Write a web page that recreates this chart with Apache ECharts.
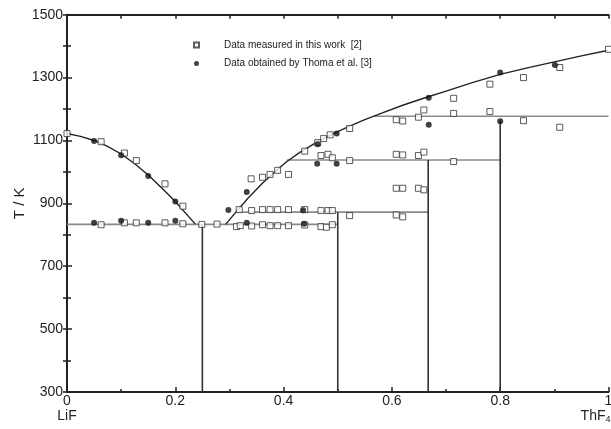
<!DOCTYPE html>
<html>
<head>
<meta charset="utf-8">
<script src="https://cdn.jsdelivr.net/npm/echarts@6/dist/echarts.min.js"></script>
<style>
html,body{margin:0;padding:0;background:#fff;}
#chart{width:611px;height:429px;}
</style>
</head>
<body>
<div id="chart"></div>
<script>
// ---- data ----
const measuredName = 'Data measured in this work  [2]';
const thomaName = 'Data obtained by Thoma et al. [3]';

// open squares: [x(ThF4), T/K]
const measuredPts = [
  [0.0,1122],
  [0.063,1096],[0.063,832],
  [0.106,1060],[0.106,838],
  [0.128,1036],[0.128,838],
  [0.181,962],[0.181,838],
  [0.214,891],[0.214,835],
  [0.249,833],[0.277,834],
  [0.313,826],[0.320,829],[0.318,880],
  [0.340,978],[0.341,877],[0.341,828],
  [0.361,983],[0.361,880],[0.361,832],
  [0.375,992],[0.375,880],[0.375,829],
  [0.389,1005],[0.389,880],[0.389,829],
  [0.409,992],[0.409,880],[0.409,829],
  [0.439,1066],[0.439,880],[0.439,831],
  [0.463,1093],[0.474,1106],[0.486,1118],
  [0.469,1052],[0.469,877],[0.469,826],
  [0.482,1056],[0.482,877],[0.479,824],
  [0.490,1045],[0.490,877],[0.490,832],
  [0.522,1138],[0.522,1036],[0.522,861],
  [0.608,1166],[0.608,1056],[0.608,948],[0.608,863],
  [0.620,1162],[0.620,1054],[0.620,948],[0.620,857],
  [0.649,1174],[0.649,1052],[0.649,948],
  [0.659,1197],[0.659,1063],[0.659,943],
  [0.714,1234],[0.714,1186],[0.714,1033],
  [0.781,1279],[0.781,1192],
  [0.843,1300],[0.843,1163],
  [0.910,1332],[0.910,1142],
  [1.0,1390]
];

// filled circles: [x(ThF4), T/K]
const thomaPts = [
  [0.05,1098],[0.10,1053],[0.15,987],[0.20,906],
  [0.05,838],[0.10,845],[0.15,838],[0.20,845],
  [0.298,879],[0.332,936],[0.332,838],
  [0.436,878],[0.438,835],
  [0.463,1088],[0.498,1122],
  [0.462,1026],[0.498,1026],
  [0.668,1236],[0.668,1150],
  [0.800,1316],[0.800,1161],
  [0.901,1340]
];

// liquidus curves
const leftLiquidus = [[0,1122],[0.025,1113],[0.05,1100],[0.075,1081],[0.10,1057],[0.125,1026],
  [0.15,990],[0.175,949],[0.20,906],[0.237,834]];
const rightLiquidus = [[0.293,833],[0.31,868],[0.335,918],[0.36,962],[0.385,1002],[0.406,1033],
  [0.43,1062],[0.46,1093],[0.49,1120],[0.52,1144],[0.55,1166],[0.58,1186],[0.62,1212],
  [0.66,1235],[0.70,1257],[0.75,1285],[0.80,1310],[0.85,1331],[0.90,1350],[0.95,1369],[1.0,1387]];

// isotherms: [xStart, xEnd, T]
const isotherms = [[0,0.5,833],[0.312,0.667,872],[0.406,0.8,1038],[0.567,1.0,1177]];
// vertical lines: [x, Tbottom, Ttop]
const verticals = [[0.25,300,833],[0.5,300,872],[0.667,300,1038],[0.8,300,1163]];

// tick labels
const xTickLabels = {0:'0\n{c|LiF}', 0.2:'0.2', 0.4:'0.4', 0.6:'0.6', 0.8:'0.8', 1:'1'};
const xEndName = '{c|ThF}{s|4}';
const yTicks = [300,500,700,900,1100,1300,1500];

// ---- build ----
function segs(list){
  const out=[];
  list.forEach((s,i)=>{ if(i) out.push([null,null]); s.forEach(p=>out.push(p)); });
  return out;
}
const isoData = segs(isotherms.map(s=>[[s[0],s[2]],[s[1],s[2]]]));
const vertData = segs(verticals.map(v=>[[v[0],v[1]],[v[0],v[2]]]));

const FONT = '"Liberation Sans", Arial, sans-serif';
const ink = '#222';
const richSub = {c:{fontFamily:FONT,fontSize:14,color:ink,lineHeight:15},
                 s:{fontFamily:FONT,fontSize:9,color:ink,lineHeight:15,verticalAlign:'bottom',padding:[5,0,0,0]}};

const chart = echarts.init(document.getElementById('chart'), null, {renderer:'canvas'});
chart.setOption({
  animation:false,
  backgroundColor:'#fff',
  textStyle:{fontFamily:FONT},
  grid:{left:67, right:2.5, top:14.7, bottom:37, containLabel:false, outerBoundsMode:'none'},
  legend:{
    orient:'vertical', left:193, top:40, padding:0, itemWidth:5, itemHeight:5, itemGap:8.5,
    data:[measuredName, thomaName],
    textStyle:{fontFamily:FONT, fontSize:10, color:'#222', padding:[0,0,0,20]}
  },
  xAxis:[{
    type:'value', min:0, max:1, interval:0.2, position:'bottom',
    name:xEndName, nameLocation:'end', nameGap:2,
    nameTextStyle:{align:'right', verticalAlign:'top', padding:[17,0,0,0], rich:richSub},
    axisLine:{show:true, lineStyle:{color:ink, width:2}},
    axisTick:{show:true, inside:true, length:5, lineStyle:{color:ink, width:1.5}},
    minorTick:{show:true, splitNumber:2, length:3, lineStyle:{color:ink, width:1.5}},
    splitLine:{show:false},
    axisLabel:{fontFamily:FONT, fontSize:14, color:ink, margin:2, lineHeight:15,
      formatter:v=>{ const k=Math.round(v*10)/10; return xTickLabels[k]!==undefined?xTickLabels[k]:''; },
      rich:richSub}
  },{
    type:'value', min:0, max:1, interval:0.1, position:'top',
    axisLine:{show:true, lineStyle:{color:ink, width:2}},
    axisTick:{show:true, inside:true, length:4, lineStyle:{color:ink, width:1.5}},
    axisLabel:{show:false}, splitLine:{show:false}
  }],
  yAxis:[{
    type:'value', min:300, max:1500, interval:200, position:'left',
    name:'T / K', nameLocation:'middle', nameGap:40, nameRotate:90, nameMoveOverlap:false,
    nameTextStyle:{fontFamily:FONT, fontSize:15, color:ink},
    axisLine:{show:true, lineStyle:{color:ink, width:2}},
    axisTick:{show:true, inside:true, length:5, lineStyle:{color:ink, width:1.5}},
    minorTick:{show:true, splitNumber:2, length:4, lineStyle:{color:ink, width:1.5}},
    splitLine:{show:false},
    axisLabel:{fontFamily:FONT, fontSize:14, color:ink, margin:4,
      formatter:v=>yTicks.indexOf(v)>=0?String(v):''}
  },{
    type:'value', min:300, max:1500, interval:100, position:'right',
    axisLine:{show:true, lineStyle:{color:ink, width:2}},
    axisTick:{show:true, inside:true, length:4, lineStyle:{color:ink, width:1.5}},
    axisLabel:{show:false}, splitLine:{show:false}
  }],
  series:[
    {type:'line', name:'iso', data:isoData, symbol:'none', connectNulls:false,
     lineStyle:{color:'#8a8a8a', width:1.6}, z:2, silent:true},
    {type:'line', name:'vert', data:vertData, symbol:'none', connectNulls:false,
     lineStyle:{color:'#333', width:1.6}, z:2, silent:true},
    {type:'line', name:'liqL', data:leftLiquidus, symbol:'none', smooth:false,
     lineStyle:{color:'#222', width:1.4}, z:3, silent:true},
    {type:'line', name:'liqR', data:rightLiquidus, symbol:'none', smooth:false,
     lineStyle:{color:'#222', width:1.4}, z:3, silent:true},
    {type:'scatter', name:measuredName, data:measuredPts, symbol:'rect', symbolSize:6,
     itemStyle:{color:'#fff', borderColor:'#333', borderWidth:1}, z:5},
    {type:'scatter', name:thomaName, data:thomaPts, symbol:'circle', symbolSize:6,
     itemStyle:{color:'#111', borderColor:'#111', borderWidth:0}, z:6}
  ]
});
</script>
</body>
</html>
